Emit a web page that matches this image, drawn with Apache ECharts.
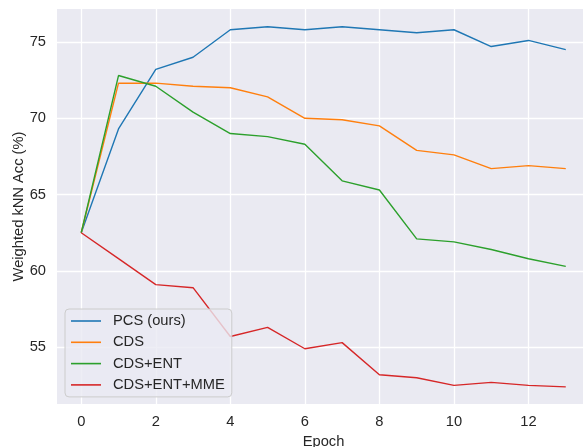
<!DOCTYPE html>
<html>
<head>
<meta charset="utf-8">
<script src="https://cdn.jsdelivr.net/npm/echarts@6/dist/echarts.min.js"></script>
<style>
  html, body { margin: 0; padding: 0; background: #ffffff; }
  #chart { width: 583px; height: 447px; }
</style>
</head>
<body>
<div id="chart"></div>
<script>
// Weighted kNN accuracy per training epoch for each method
const epochs = [0, 1, 2, 3, 4, 5, 6, 7, 8, 9, 10, 11, 12, 13];
const pcs    = [62.5, 69.3, 73.2, 74.0, 75.8, 76.0, 75.8, 76.0, 75.8, 75.6, 75.8, 74.7, 75.1, 74.5];
const cds    = [62.5, 72.3, 72.3, 72.1, 72.0, 71.4, 70.0, 69.9, 69.5, 67.9, 67.6, 66.7, 66.9, 66.7];
const cdsEnt = [62.5, 72.8, 72.1, 70.4, 69.0, 68.8, 68.3, 65.9, 65.3, 62.1, 61.9, 61.4, 60.8, 60.3];
const cdsEntMme = [62.5, 60.8, 59.1, 58.9, 55.7, 56.3, 54.9, 55.3, 53.2, 53.0, 52.5, 52.7, 52.5, 52.4];

const seriesNames = ['PCS (ours)', 'CDS', 'CDS+ENT', 'CDS+ENT+MME'];
const seriesValues = [pcs, cds, cdsEnt, cdsEntMme];
const colors = ['#1f77b4', '#ff7f0e', '#2ca02c', '#d62728'];

const xTicks = [0, 2, 4, 6, 8, 10, 12];
const yTicks = [55, 60, 65, 70, 75];

const textColor = '#262626';
const fontFamily = '"Liberation Sans", Arial, sans-serif';

const chart = echarts.init(document.getElementById('chart'), null, { renderer: 'canvas' });

chart.setOption({
  animation: false,
  color: colors,
  grid: {
    left: 57, top: 9, width: 533, height: 395,
    outerBoundsMode: 'none',
    containLabel: false,
    show: true, backgroundColor: '#eaeaf2', borderWidth: 0
  },
  legend: {
    orient: 'vertical',
    left: 65, top: 309,
    icon: 'rect',
    itemWidth: 30, itemHeight: 1.6,
    itemGap: 5.3,
    padding: [4, 7, 4, 6],
    backgroundColor: 'rgba(234,234,242,0.8)',
    borderColor: '#cccccc', borderWidth: 1, borderRadius: 4,
    textStyle: { color: textColor, fontSize: 14.7, fontFamily: fontFamily, lineHeight: 16, padding: [0, 0, 0, 7] },
    data: seriesNames
  },
  xAxis: {
    type: 'value',
    min: -0.65, max: 13.65,
    name: 'Epoch', nameLocation: 'middle', nameGap: 30,
    nameMoveOverlap: false,
    nameTextStyle: { color: textColor, fontSize: 14.7, fontFamily: fontFamily },
    axisLine: { show: false },
    axisTick: { show: false, customValues: xTicks },
    axisLabel: { customValues: xTicks, color: textColor, fontSize: 14.7, fontFamily: fontFamily, margin: 10 },
    splitLine: { show: true, lineStyle: { color: '#ffffff', width: 1.3 } }
  },
  yAxis: {
    type: 'value',
    min: 51.28, max: 77.16,
    name: 'Weighted kNN Acc (%)', nameLocation: 'middle', nameGap: 31,
    nameMoveOverlap: false,
    nameTextStyle: { color: textColor, fontSize: 14.7, fontFamily: fontFamily },
    axisLine: { show: false },
    axisTick: { show: false, customValues: yTicks },
    axisLabel: { customValues: yTicks, color: textColor, fontSize: 14.7, fontFamily: fontFamily, margin: 11 },
    splitLine: { show: true, lineStyle: { color: '#ffffff', width: 1.3 } }
  },
  series: seriesNames.map((name, i) => ({
    name: name,
    type: 'line',
    data: epochs.map((e, j) => [e, seriesValues[i][j]]),
    showSymbol: false,
    symbol: 'none',
    lineStyle: { width: 1.4, color: colors[i] },
    itemStyle: { color: colors[i] },
    z: 2
  }))
});
</script>
</body>
</html>
